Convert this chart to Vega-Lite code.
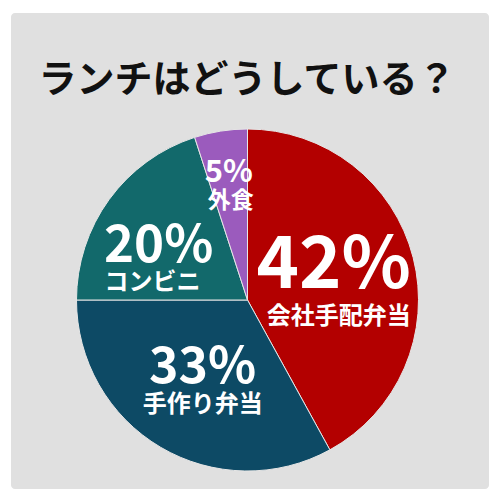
{
  "$schema": "https://vega.github.io/schema/vega-lite/v6.json",
  "description": "ランチはどうしている？ pie chart",
  "width": 478,
  "height": 476,
  "autosize": "none",
  "padding": {"left": 11, "top": 13, "right": 11, "bottom": 11},
  "background": "#ffffff",
  "view": {"fill": "#e0e0e0", "stroke": null, "cornerRadius": 4},
  "title": {
    "text": "ランチはどうしている？",
    "anchor": "middle",
    "offset": 0,
    "dy": 117,
    "dx": -3,
    "baseline": "alphabetic",
    "font": "Noto Sans CJK JP",
    "fontSize": 38,
    "fontWeight": "bold",
    "color": "#111111"
  },
  "config": {
    "view": {"fill": "#e0e0e0", "stroke": null, "cornerRadius": 4},
    "text": {"font": "Noto Sans CJK JP", "fontWeight": "bold", "color": "#ffffff", "align": "center", "baseline": "alphabetic"}
  },
  "data": {
    "values": [
      {"rank": 1, "category": "会社手配弁当", "value": 42, "label": "42%"},
      {"rank": 2, "category": "手作り弁当", "value": 33, "label": "33%"},
      {"rank": 3, "category": "コンビニ", "value": 20, "label": "20%"},
      {"rank": 4, "category": "外食", "value": 5, "label": "5%"}
    ]
  },
  "encoding": {
    "theta": {"field": "value", "type": "quantitative", "stack": true},
    "order": {"field": "rank", "type": "quantitative"}
  },
  "layer": [
    {
      "mark": {"type": "arc", "outerRadius": 171, "x": 236.5, "y": 287, "stroke": "#e6e6e6", "strokeWidth": 1},
      "encoding": {
        "color": {
          "field": "category",
          "type": "nominal",
          "scale": {
            "domain": ["会社手配弁当", "手作り弁当", "コンビニ", "外食"],
            "range": ["#b30000", "#0d4a65", "#12696b", "#9b5bbd"]
          },
          "legend": null
        }
      }
    },
    {
      "mark": {"type": "text", "radius": 90, "x": 236.5, "y": 287, "fontSize": 72, "dx": -1, "dy": 10},
      "encoding": {"text": {"condition": {"test": "datum.rank === 1", "field": "label"}, "value": ""}}
    },
    {
      "mark": {"type": "text", "radius": 90, "x": 236.5, "y": 287, "fontSize": 24, "dx": 4, "dy": 46},
      "encoding": {"text": {"condition": {"test": "datum.rank === 1", "field": "category"}, "value": ""}}
    },
    {
      "mark": {"type": "text", "radius": 90, "x": 236.5, "y": 287, "fontSize": 50, "dx": 1, "dy": 6},
      "encoding": {"text": {"condition": {"test": "datum.rank === 2", "field": "label"}, "value": ""}}
    },
    {
      "mark": {"type": "text", "radius": 90, "x": 236.5, "y": 287, "fontSize": 24, "dx": 1, "dy": 35},
      "encoding": {"text": {"condition": {"test": "datum.rank === 2", "field": "category"}, "value": ""}}
    },
    {
      "mark": {"type": "text", "radius": 100, "x": 236.5, "y": 287, "fontSize": 51, "dx": -8, "dy": 21},
      "encoding": {"text": {"condition": {"test": "datum.rank === 3", "field": "label"}, "value": ""}}
    },
    {
      "mark": {"type": "text", "radius": 100, "x": 236.5, "y": 287, "fontSize": 24, "dx": -14, "dy": 49},
      "encoding": {"text": {"condition": {"test": "datum.rank === 3", "field": "category"}, "value": ""}}
    },
    {
      "mark": {"type": "text", "radius": 120, "x": 236.5, "y": 287, "fontSize": 31, "dx": 0, "dy": 1},
      "encoding": {"text": {"condition": {"test": "datum.rank === 4", "field": "label"}, "value": ""}}
    },
    {
      "mark": {"type": "text", "radius": 120, "x": 236.5, "y": 287, "fontSize": 23, "dx": 2, "dy": 27},
      "encoding": {"text": {"condition": {"test": "datum.rank === 4", "field": "category"}, "value": ""}}
    }
  ]
}
